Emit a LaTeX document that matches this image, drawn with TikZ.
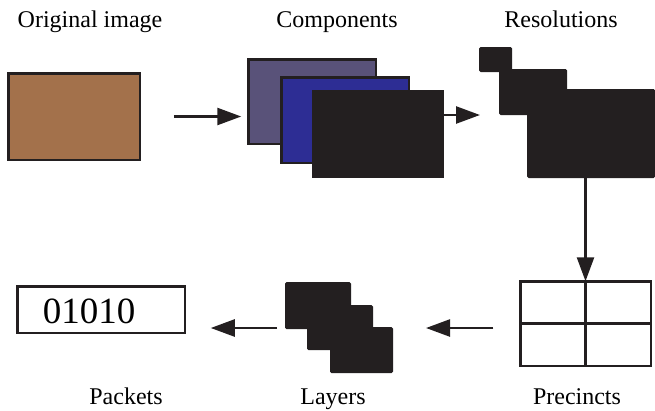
\documentclass[tikz,border=0pt]{standalone}
\usepackage{fontspec}
\setmainfont{Liberation Serif}
\usetikzlibrary{arrows.meta}

\definecolor{imgbrown}{HTML}{A3714B}
\definecolor{compgrey}{HTML}{595279}
\definecolor{compblue}{HTML}{2D2D94}
\definecolor{ink}{HTML}{231F20}

\tikzset{
    box/.style={draw=ink, line width=2.5pt, inner sep=0pt, outer sep=0pt},
    blk/.style={fill=ink, rounded corners=1.5pt, inner sep=0pt, outer sep=0pt},
    flow/.style={draw=ink, line width=2.5pt, -{Triangle[length=24pt,width=17pt]}},
    lbl/.style={anchor=base, font=\rmfamily\fontsize{24}{28}\selectfont}
}

\begin{document}
\begin{tikzpicture}[x=1pt, y=-1pt]
            \useasboundingbox (0,0) rectangle (655,410);

            \node[box, fill=imgbrown, minimum width=131.5pt, minimum height=86.5pt] (orig) at (74,116.5) {};

            \node[box, fill=compgrey, minimum width=127.5pt, minimum height=84.5pt] (comp1) at (312,101.5) {};
            \node[box, fill=compblue, minimum width=127.5pt, minimum height=85.5pt] (comp2) at (345,120) {};
            \node[box, fill=ink, minimum width=129.5pt, minimum height=85.5pt] (comp3) at (378,134) {};

            \node[blk, minimum width=33pt, minimum height=25pt] (res1) at (495.5,59.5) {};
            \node[blk, minimum width=68pt, minimum height=46pt] (res2) at (533,92) {};
            \node[blk, minimum width=128pt, minimum height=89pt] (res3) at (591,133.5) {};

            \node[box, minimum width=130.5pt, minimum height=84.5pt] (prec) at (585.5,323.5) {};
            \draw[ink, line width=2.5pt] (prec.north) -- (prec.south);
            \draw[ink, line width=2.5pt] (prec.west) -- (prec.east);

            \node[blk, minimum width=66pt, minimum height=47pt] (lay1) at (318,305.5) {};
            \node[blk, minimum width=66pt, minimum height=45pt] (lay2) at (340,327.5) {};
            \node[blk, minimum width=63pt, minimum height=46pt] (lay3) at (361.5,350) {};

            \node[box, minimum width=167.5pt, minimum height=46.5pt] (pack) at (101,309.5) {};
            \node[anchor=base, font=\rmfamily\fontsize{37}{40}\selectfont] (bits) at (89,323) {01010};

            \node[lbl] (torig) at (90,27) {Original image};
            \node[lbl] (tcomp) at (337,27) {Components};
            \node[lbl] (tres) at (561,27) {Resolutions};
            \node[lbl] (tpack) at (126,404) {Packets};
            \node[lbl] (tlay) at (333,404) {Layers};
            \node[lbl] (tprec) at (577,404) {Precincts};

            \coordinate (back) at ([shift={(-27pt,-4.5pt)}]prec.west);
            \draw[flow] ([xshift=34pt]orig.east) -- ([xshift=-7pt]comp1.west |- orig.east);
            \draw[flow] (comp3.east |- res2.south) -- ([xshift=-19pt]res2.south west);
            \draw[flow] (res3.south -| prec.north) -- (prec.north);
            \draw[flow] (back) -- ([xshift=33pt]lay3.east |- back);
            \draw[flow] ([xshift=-8pt]lay1.west |- back) -- ([xshift=26pt]pack.east |- back);
        \end{tikzpicture}
\end{document}
